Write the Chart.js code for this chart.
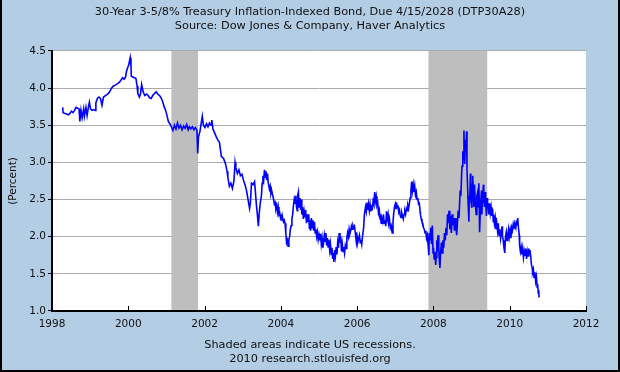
<!DOCTYPE html>
<html>
<head>
<meta charset="utf-8">
<script src="https://cdn.jsdelivr.net/npm/chart.js@4.4.1/dist/chart.umd.min.js"></script>
<style>
  body { margin: 0; background: #b3cde4; }
  canvas { display: block; }
</style>
</head>
<body>
<canvas id="grafico" width="620" height="372"></canvas>
<script>
// yield readings: [decimal year, percent]
const pontos = [
  [1998.28, 3.74], [1998.29, 3.67], [1998.33, 3.66], [1998.38, 3.65], [1998.43, 3.64],
  [1998.47, 3.66], [1998.51, 3.69], [1998.55, 3.67], [1998.59, 3.70], [1998.63, 3.74],
  [1998.67, 3.73], [1998.71, 3.72], [1998.73, 3.55], [1998.76, 3.70], [1998.79, 3.60],
  [1998.83, 3.72], [1998.85, 3.62], [1998.89, 3.74], [1998.92, 3.63], [1998.96, 3.76],
  [1998.98, 3.81], [1999.01, 3.72], [1999.05, 3.70], [1999.09, 3.71], [1999.13, 3.70],
  [1999.15, 3.80], [1999.19, 3.86], [1999.23, 3.88], [1999.27, 3.86], [1999.31, 3.77],
  [1999.35, 3.88], [1999.40, 3.90], [1999.46, 3.92], [1999.51, 3.95], [1999.56, 4.00],
  [1999.61, 4.03], [1999.66, 4.04], [1999.72, 4.06], [1999.77, 4.08], [1999.81, 4.11],
  [1999.85, 4.14], [1999.89, 4.12], [1999.93, 4.15], [1999.95, 4.22], [1999.98, 4.27],
  [2000.01, 4.31], [2000.03, 4.36], [2000.05, 4.41], [2000.07, 4.30], [2000.08, 4.16],
  [2000.12, 4.15], [2000.16, 4.14], [2000.20, 4.13], [2000.23, 4.03], [2000.25, 3.93],
  [2000.29, 3.88], [2000.32, 3.92], [2000.35, 4.05], [2000.39, 3.95], [2000.43, 3.90],
  [2000.48, 3.92], [2000.52, 3.90], [2000.56, 3.87], [2000.60, 3.86], [2000.64, 3.90],
  [2000.69, 3.93], [2000.73, 3.95], [2000.77, 3.92], [2000.82, 3.90], [2000.86, 3.87],
  [2000.90, 3.82], [2000.94, 3.75], [2000.98, 3.70], [2001.02, 3.62], [2001.05, 3.55],
  [2001.09, 3.52], [2001.13, 3.48], [2001.17, 3.43], [2001.21, 3.50], [2001.25, 3.45],
  [2001.29, 3.53], [2001.33, 3.46], [2001.37, 3.50], [2001.41, 3.44], [2001.45, 3.49],
  [2001.49, 3.46], [2001.53, 3.51], [2001.57, 3.44], [2001.60, 3.48], [2001.64, 3.45],
  [2001.68, 3.48], [2001.72, 3.44], [2001.76, 3.47], [2001.80, 3.43], [2001.82, 3.12],
  [2001.84, 3.34], [2001.88, 3.42], [2001.94, 3.62], [2001.97, 3.50], [2002.01, 3.47],
  [2002.05, 3.52], [2002.09, 3.48], [2002.13, 3.53], [2002.17, 3.50], [2002.19, 3.57],
  [2002.22, 3.45], [2002.26, 3.40], [2002.31, 3.34], [2002.35, 3.30], [2002.39, 3.27],
  [2002.44, 3.08], [2002.50, 3.05], [2002.55, 2.98], [2002.59, 2.88], [2002.61, 2.80],
  [2002.65, 2.68], [2002.69, 2.72], [2002.73, 2.65], [2002.77, 2.75], [2002.80, 3.00],
  [2002.82, 2.93], [2002.86, 2.85], [2002.90, 2.90], [2002.94, 2.82], [2002.98, 2.84],
  [2003.02, 2.76], [2003.06, 2.70], [2003.10, 2.62], [2003.14, 2.50], [2003.18, 2.38],
  [2003.20, 2.45], [2003.23, 2.72], [2003.27, 2.70], [2003.31, 2.74], [2003.33, 2.62],
  [2003.36, 2.42], [2003.38, 2.32], [2003.41, 2.14], [2003.43, 2.30], [2003.46, 2.45],
  [2003.49, 2.55], [2003.51, 2.72], [2003.53, 2.82], [2003.55, 2.76], [2003.57, 2.90],
  [2003.59, 2.80], [2003.61, 2.88], [2003.63, 2.76], [2003.65, 2.85], [2003.67, 2.72],
  [2003.70, 2.64], [2003.72, 2.68], [2003.74, 2.58], [2003.76, 2.62], [2003.79, 2.55],
  [2003.81, 2.50], [2003.83, 2.44], [2003.85, 2.46], [2003.87, 2.38], [2003.89, 2.42],
  [2003.91, 2.33], [2003.93, 2.40], [2003.95, 2.30], [2003.97, 2.32], [2003.99, 2.25],
  [2004.01, 2.28], [2004.03, 2.22], [2004.05, 2.25], [2004.07, 2.20], [2004.09, 2.22],
  [2004.11, 2.18], [2004.13, 2.05], [2004.15, 1.92], [2004.17, 1.95], [2004.19, 1.87],
  [2004.21, 1.96], [2004.23, 2.00], [2004.25, 2.10], [2004.27, 2.15], [2004.29, 2.24],
  [2004.31, 2.30], [2004.33, 2.42], [2004.35, 2.50], [2004.37, 2.44], [2004.39, 2.55],
  [2004.41, 2.40], [2004.43, 2.35], [2004.44, 2.55], [2004.46, 2.60], [2004.48, 2.40],
  [2004.50, 2.52], [2004.52, 2.36], [2004.54, 2.50], [2004.55, 2.30], [2004.57, 2.40],
  [2004.59, 2.24], [2004.61, 2.34], [2004.63, 2.26], [2004.65, 2.36], [2004.67, 2.18],
  [2004.69, 2.30], [2004.71, 2.20], [2004.73, 2.30], [2004.75, 2.10], [2004.77, 2.22],
  [2004.78, 2.08], [2004.80, 2.25], [2004.82, 2.12], [2004.84, 2.22], [2004.86, 2.08],
  [2004.88, 2.20], [2004.90, 2.05], [2004.92, 2.10], [2004.94, 2.00], [2004.96, 2.06],
  [2004.98, 1.96], [2005.00, 2.02], [2005.02, 1.95], [2005.04, 2.04], [2005.06, 1.90],
  [2005.08, 1.98], [2005.10, 1.85], [2005.12, 1.92], [2005.14, 2.02], [2005.16, 1.94],
  [2005.18, 2.05], [2005.20, 1.88], [2005.22, 1.98], [2005.24, 1.86], [2005.26, 1.96],
  [2005.28, 1.82], [2005.30, 1.90], [2005.32, 1.76], [2005.34, 1.85], [2005.36, 1.70],
  [2005.38, 1.78], [2005.39, 1.66], [2005.41, 1.82], [2005.43, 1.74], [2005.45, 1.86],
  [2005.47, 1.76], [2005.49, 1.92], [2005.51, 1.85], [2005.53, 2.05], [2005.55, 1.92],
  [2005.57, 2.00], [2005.59, 1.80], [2005.61, 1.90], [2005.63, 1.80], [2005.65, 1.86],
  [2005.67, 1.78], [2005.69, 1.88], [2005.71, 1.84], [2005.73, 1.98], [2005.75, 2.05],
  [2005.77, 2.00], [2005.79, 2.10], [2005.81, 2.04], [2005.83, 2.08], [2005.85, 2.14],
  [2005.87, 2.10], [2005.89, 2.15], [2005.91, 2.12], [2005.93, 2.14], [2005.95, 2.06],
  [2005.97, 1.97], [2005.98, 1.92], [2006.00, 2.00], [2006.02, 1.93], [2006.04, 1.98],
  [2006.06, 2.02], [2006.08, 1.92], [2006.10, 1.96], [2006.12, 1.90], [2006.14, 2.00],
  [2006.17, 2.12], [2006.19, 2.30], [2006.22, 2.40], [2006.24, 2.34], [2006.26, 2.46],
  [2006.28, 2.36], [2006.30, 2.44], [2006.32, 2.35], [2006.34, 2.43], [2006.36, 2.34],
  [2006.38, 2.40], [2006.40, 2.38], [2006.42, 2.48], [2006.44, 2.44], [2006.46, 2.60],
  [2006.48, 2.48], [2006.50, 2.54], [2006.52, 2.42], [2006.54, 2.45], [2006.56, 2.32],
  [2006.58, 2.36], [2006.60, 2.24], [2006.61, 2.30], [2006.63, 2.18], [2006.65, 2.24],
  [2006.67, 2.20], [2006.69, 2.30], [2006.71, 2.18], [2006.73, 2.22], [2006.75, 2.14],
  [2006.77, 2.34], [2006.79, 2.24], [2006.81, 2.30], [2006.83, 2.18], [2006.85, 2.22],
  [2006.87, 2.12], [2006.89, 2.15], [2006.91, 2.08], [2006.92, 2.05], [2006.94, 2.20],
  [2006.96, 2.32], [2006.98, 2.40], [2007.00, 2.44], [2007.02, 2.38], [2007.03, 2.46],
  [2007.05, 2.40], [2007.07, 2.42], [2007.09, 2.33], [2007.11, 2.36], [2007.13, 2.28],
  [2007.15, 2.26], [2007.17, 2.32], [2007.19, 2.28], [2007.21, 2.24], [2007.23, 2.30],
  [2007.25, 2.34], [2007.27, 2.30], [2007.29, 2.38], [2007.31, 2.35], [2007.33, 2.42],
  [2007.35, 2.38], [2007.37, 2.45], [2007.39, 2.52], [2007.41, 2.62], [2007.43, 2.74],
  [2007.45, 2.62], [2007.47, 2.70], [2007.49, 2.60], [2007.51, 2.68], [2007.53, 2.56],
  [2007.55, 2.60], [2007.57, 2.50], [2007.59, 2.52], [2007.61, 2.44], [2007.63, 2.45],
  [2007.65, 2.34], [2007.66, 2.30], [2007.68, 2.24], [2007.70, 2.20], [2007.72, 2.18],
  [2007.74, 2.12], [2007.76, 2.10], [2007.78, 2.05], [2007.80, 2.08], [2007.82, 1.98],
  [2007.84, 2.02], [2007.86, 1.90], [2007.88, 1.75], [2007.89, 2.05], [2007.91, 1.95],
  [2007.93, 2.12], [2007.95, 1.90], [2007.97, 2.15], [2007.99, 1.78], [2008.00, 1.85],
  [2008.02, 1.70], [2008.04, 1.80], [2008.06, 1.62], [2008.07, 1.72], [2008.09, 1.95],
  [2008.10, 1.80], [2008.12, 2.02], [2008.14, 1.85], [2008.15, 1.72], [2008.17, 1.58],
  [2008.19, 1.80], [2008.21, 1.92], [2008.23, 1.78], [2008.25, 1.95], [2008.27, 1.85],
  [2008.29, 2.05], [2008.31, 1.95], [2008.33, 2.12], [2008.35, 2.02], [2008.37, 2.30],
  [2008.39, 2.18], [2008.41, 2.35], [2008.43, 2.10], [2008.45, 2.28], [2008.47, 2.05],
  [2008.49, 2.30], [2008.51, 2.15], [2008.53, 2.25], [2008.55, 2.08], [2008.57, 2.25],
  [2008.59, 2.12], [2008.61, 2.02], [2008.63, 2.20], [2008.65, 2.35], [2008.67, 2.25],
  [2008.69, 2.50], [2008.70, 2.62], [2008.72, 2.55], [2008.74, 2.85], [2008.75, 2.95],
  [2008.77, 3.15], [2008.78, 3.05], [2008.80, 3.43], [2008.81, 3.10], [2008.82, 2.98],
  [2008.84, 3.30], [2008.85, 3.20], [2008.87, 3.42], [2008.88, 2.90], [2008.90, 2.60],
  [2008.91, 2.45], [2008.93, 2.20], [2008.94, 2.55], [2008.95, 2.45], [2008.97, 2.85],
  [2008.98, 2.75], [2009.00, 2.40], [2009.01, 2.50], [2009.02, 2.70], [2009.03, 2.82],
  [2009.05, 2.55], [2009.06, 2.40], [2009.07, 2.70], [2009.08, 2.65], [2009.10, 2.45],
  [2009.12, 2.30], [2009.14, 2.55], [2009.16, 2.60], [2009.17, 2.40], [2009.19, 2.72],
  [2009.20, 2.50], [2009.21, 2.06], [2009.23, 2.35], [2009.24, 2.45], [2009.26, 2.62],
  [2009.27, 2.30], [2009.29, 2.55], [2009.31, 2.70], [2009.32, 2.50], [2009.34, 2.40],
  [2009.36, 2.60], [2009.37, 2.45], [2009.39, 2.28], [2009.41, 2.52], [2009.42, 2.46],
  [2009.44, 2.40], [2009.45, 2.30], [2009.47, 2.45], [2009.49, 2.32], [2009.51, 2.40],
  [2009.53, 2.28], [2009.55, 2.38], [2009.57, 2.20], [2009.58, 2.30], [2009.60, 2.18],
  [2009.62, 2.25], [2009.64, 2.10], [2009.66, 2.18], [2009.68, 2.08], [2009.70, 2.18],
  [2009.72, 2.02], [2009.74, 2.10], [2009.76, 1.98], [2009.78, 2.06], [2009.80, 2.14],
  [2009.81, 2.00], [2009.83, 1.95], [2009.85, 1.85], [2009.87, 1.78], [2009.89, 2.00],
  [2009.91, 2.06], [2009.93, 1.95], [2009.95, 2.02], [2009.97, 2.10], [2009.99, 2.00],
  [2010.01, 2.08], [2010.03, 1.98], [2010.05, 2.12], [2010.07, 2.08], [2010.09, 2.16],
  [2010.11, 2.10], [2010.13, 2.18], [2010.16, 2.12], [2010.18, 2.22], [2010.19, 2.15],
  [2010.21, 2.25], [2010.23, 2.12], [2010.25, 2.02], [2010.26, 1.88], [2010.28, 1.80],
  [2010.30, 1.86], [2010.32, 1.76], [2010.34, 1.84], [2010.36, 1.72], [2010.38, 1.80],
  [2010.40, 1.74], [2010.42, 1.84], [2010.44, 1.70], [2010.46, 1.80], [2010.48, 1.74],
  [2010.50, 1.84], [2010.52, 1.78], [2010.53, 1.82], [2010.55, 1.74], [2010.57, 1.62],
  [2010.59, 1.58], [2010.60, 1.52], [2010.62, 1.56], [2010.64, 1.45], [2010.66, 1.52],
  [2010.68, 1.40], [2010.70, 1.46], [2010.72, 1.32], [2010.73, 1.36], [2010.75, 1.24],
  [2010.76, 1.28], [2010.77, 1.18]
];
const years = pontos.map(p => p[0]);
const values = pontos.map(p => p[1]);
const recessionStarts = [2001.13, 2007.87];
const recessionEnds = [2001.83, 2009.41];
const xTicks = [1998, 2000, 2002, 2004, 2006, 2008, 2010, 2012];
const yTicks = [1.0, 1.5, 2.0, 2.5, 3.0, 3.5, 4.0, 4.5];

const fonte = { family: 'DejaVu Sans', size: 10.5, lineHeight: 1.3 };
const fonteTitulo = { family: 'DejaVu Sans', size: 11.3, lineHeight: 1.22, weight: 'normal' };

const fundoPlugin = {
  id: 'fundo',
  beforeDraw(chart) {
    const { ctx, chartArea: a } = chart;
    ctx.save();
    ctx.fillStyle = '#b3cde4';
    ctx.fillRect(0, 0, chart.width, chart.height);
    ctx.fillStyle = '#ffffff';
    ctx.fillRect(a.left, a.top, a.right - a.left, a.bottom - a.top);
    ctx.restore();
  },
  beforeDatasetsDraw(chart) {
    const { ctx, chartArea: a, scales } = chart;
    ctx.save();
    ctx.fillStyle = '#bebebe';
    for (let i = 0; i < recessionStarts.length; i++) {
      const x0 = scales.x.getPixelForValue(recessionStarts[i]);
      const x1 = scales.x.getPixelForValue(recessionEnds[i]);
      ctx.fillRect(x0, a.top, x1 - x0, a.bottom - a.top - 1);
    }
    ctx.restore();
  },
  afterDraw(chart) {
    const { ctx, chartArea: a, scales } = chart;
    ctx.save();
    // tick marks pointing up into the plot
    ctx.strokeStyle = '#000';
    ctx.lineWidth = 1;
    xTicks.forEach(v => {
      const px = Math.round(scales.x.getPixelForValue(v)) + 0.5;
      ctx.beginPath();
      ctx.moveTo(px, a.bottom);
      ctx.lineTo(px, a.bottom - 5);
      ctx.stroke();
    });
    // outer frame
    ctx.lineWidth = 2;
    ctx.beginPath();
    ctx.moveTo(1, 0);
    ctx.lineTo(1, chart.height - 1);
    ctx.lineTo(chart.width - 1, chart.height - 1);
    ctx.lineTo(chart.width - 1, 0);
    ctx.stroke();
    ctx.restore();
  }
};

new Chart(document.getElementById('grafico').getContext('2d'), {
  type: 'line',
  data: {
    datasets: [{
      data: years.map((y, i) => ({ x: y, y: values[i] })),
      borderColor: '#0000ff',
      borderWidth: 1.6,
      pointRadius: 0,
      tension: 0,
      fill: false
    }]
  },
  options: {
    responsive: false,
    animation: false,
    layout: { padding: { top: 0, left: 0, right: 0, bottom: 3 } },
    plugins: {
      legend: { display: false },
      tooltip: { enabled: false },
      title: {
        display: true,
        text: ['30-Year 3-5/8% Treasury Inflation-Indexed Bond, Due 4/15/2028 (DTP30A28)',
               'Source: Dow Jones & Company, Haver Analytics'],
        color: '#111',
        font: fonteTitulo,
        padding: { top: 5, bottom: 18.4 }
      },
      subtitle: {
        display: true,
        position: 'bottom',
        text: ['Shaded areas indicate US recessions.', '2010 research.stlouisfed.org'],
        color: '#111',
        font: fonteTitulo,
        padding: { top: 5.5, bottom: 3 }
      }
    },
    scales: {
      x: {
        type: 'linear',
        min: 1998,
        max: 2012,
        afterBuildTicks: s => { s.ticks = xTicks.map(v => ({ value: v })); },
        afterFit: s => { s.height = 22; },
        grid: { display: true, drawOnChartArea: false, drawTicks: false },
        border: { color: '#000', width: 2 },
        ticks: { color: '#111', font: fonte, padding: 7, maxRotation: 0, callback: v => String(v) }
      },
      y: {
        min: 1.0,
        max: 4.5,
        afterBuildTicks: s => { s.ticks = yTicks.map(v => ({ value: v })); },
        afterFit: s => { s.width = 52; },
        grid: { color: '#aaaaaa', lineWidth: 1, tickLength: 4, tickColor: '#000' },
        border: { color: '#000', width: 2 },
        ticks: { color: '#111', font: fonte, padding: 2, callback: v => Number(v).toFixed(1) },
        title: { display: true, text: '(Percent)', color: '#111', font: fonte, padding: { top: 6, bottom: 0 } }
      },
      y2: {
        position: 'right',
        display: true,
        afterFit: s => { s.width = 34; },
        grid: { display: false },
        border: { display: false },
        ticks: { display: false }
      }
    }
  },
  plugins: [fundoPlugin]
});
</script>
</body>
</html>
